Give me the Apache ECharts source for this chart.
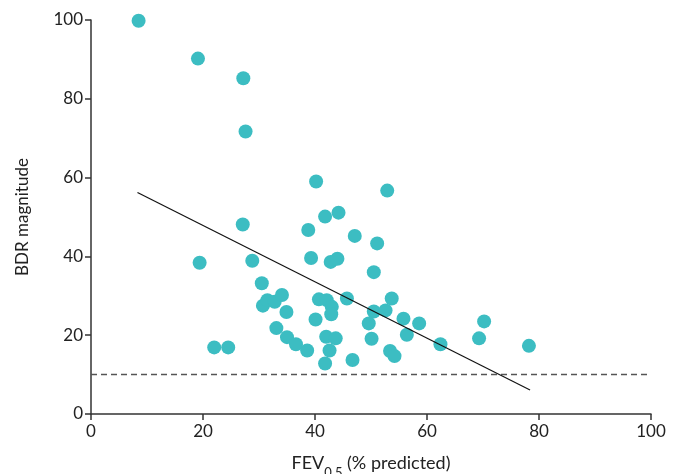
<!DOCTYPE html>
<html>
<head>
<meta charset="utf-8">
<script src="https://cdn.jsdelivr.net/npm/echarts@6/dist/echarts.min.js"></script>
<style>
    html, body { margin: 0; padding: 0; background: #fff; }
    #chart { width: 682px; height: 474px; }
</style>
</head>
<body>
<div id="chart"></div>
<script>
    // FEV0.5 (% predicted) and BDR magnitude
    var fev = [8.5, 19.1, 27.2, 27.6, 40.2, 52.9, 41.8, 44.2, 27.1, 38.8, 47.1, 51.1, 19.4, 28.8,
        39.3, 42.8, 44.0, 50.5, 30.5, 30.7, 31.5, 32.8, 34.1, 34.9, 33.1, 35.0, 36.6, 38.6,
        22.0, 24.5, 40.7, 42.1, 43.0, 42.9, 40.1, 45.7, 42.0, 43.7, 42.6, 41.8, 46.7, 50.5,
        49.6, 50.1, 53.7, 52.6, 55.8, 58.6, 56.4, 62.4, 70.2, 69.3, 78.2, 53.4, 54.2];
    var bdr = [99.8, 90.2, 85.2, 71.7, 59.0, 56.7, 50.1, 51.1, 48.1, 46.7, 45.2, 43.3, 38.4, 38.9,
        39.6, 38.6, 39.4, 36.0, 33.2, 27.5, 28.9, 28.5, 30.2, 25.9, 21.8, 19.5, 17.7, 16.1,
        16.9, 16.9, 29.1, 28.9, 27.2, 25.3, 24.0, 29.3, 19.6, 19.2, 16.1, 12.8, 13.7, 26.0,
        23.0, 19.1, 29.3, 26.3, 24.2, 23.0, 20.1, 17.7, 23.5, 19.2, 17.3, 16.0, 14.7];
    var fitLine = [[8.3, 56.2], [78.4, 6.1]];
    var threshold = [[0, 10], [100, 10]];

    var points = [];
    for (var i = 0; i < fev.length; i++) {
        points.push([fev[i], bdr[i]]);
    }

    var font = 'Lato';
    var axisCol = '#333';

    var myChart = echarts.init(document.getElementById('chart'));
    var option = {
        animation: false,
        grid: { left: 91, right: 31, top: 20, bottom: 60, outerBoundsMode: 'none' },
        xAxis: {
            type: 'value',
            min: 0, max: 100, interval: 20,
            name: '{m|FEV}{s|0.5}{m| (% predicted)}',
            nameLocation: 'middle',
            nameGap: 40,
            nameTextStyle: {
                rich: {
                    m: { fontFamily: font, fontSize: 18, color: '#222' },
                    s: { fontFamily: font, fontSize: 13, color: '#222', verticalAlign: 'bottom', padding: [0, 0, -7, 0] }
                }
            },
            splitLine: { show: false },
            axisLine: { lineStyle: { color: axisCol, width: 1.5 } },
            axisTick: { length: 6, lineStyle: { color: axisCol, width: 1.5 } },
            axisLabel: { fontFamily: font, fontSize: 17, color: '#222', margin: 9 }
        },
        yAxis: {
            type: 'value',
            min: 0, max: 100, interval: 20,
            name: 'BDR magnitude',
            nameLocation: 'middle',
            nameGap: 60,
            nameTextStyle: { fontFamily: font, fontSize: 17, color: '#222' },
            splitLine: { show: false },
            axisLine: { show: true, lineStyle: { color: axisCol, width: 1.5 } },
            axisTick: { show: true, length: 6, lineStyle: { color: axisCol, width: 1.5 } },
            axisLabel: { fontFamily: font, fontSize: 17, color: '#222', margin: 8 }
        },
        series: [
            {
                type: 'line',
                data: threshold,
                symbol: 'none',
                lineStyle: { color: '#555', width: 1.5, type: [6, 4] },
                z: 1
            },
            {
                type: 'line',
                data: fitLine,
                symbol: 'none',
                lineStyle: { color: '#111', width: 1.2 },
                z: 3
            },
            {
                type: 'scatter',
                data: points,
                symbolSize: 14,
                itemStyle: { color: '#3CBDC2', opacity: 1 },
                z: 2
            }
        ]
    };
    myChart.setOption(option);
</script>
</body>
</html>
